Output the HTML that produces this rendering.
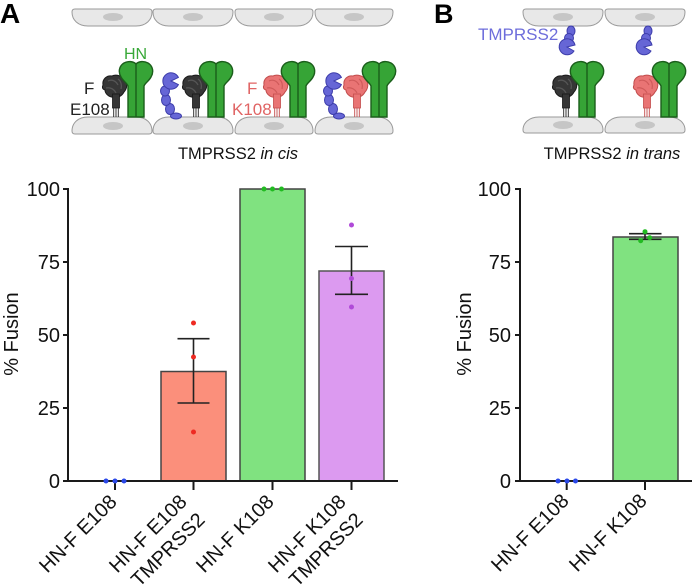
<!DOCTYPE html>
<html>
<head>
<meta charset="utf-8">
<style>
html,body{margin:0;padding:0;background:#fff;}
svg{display:block;}
text{font-family:"Liberation Sans",Arial,sans-serif;}
</style>
</head>
<body>
<svg width="692" height="588" viewBox="0 0 692 588" xmlns="http://www.w3.org/2000/svg">
<defs>
  <g id="hn">
    <path d="M0,2 C-3,-1 -8,-1 -12,1 C-17,4 -18,10 -15,15 C-13,19 -9,21 -8,24 L-8,55 L8,55 L8,24 C9,21 13,19 15,15 C18,10 17,4 12,1 C8,-1 3,-1 0,2 Z" fill="#36a436" stroke="#1b5e1b" stroke-width="1.4"/>
    <path d="M0,2 V55" stroke="#1b5e1b" stroke-width="1.4"/>
  </g>
  <g id="fblack">
    <path d="M-13,10 C-14,4 -9,0 -4,1 C0,-1 7,1 9,5 C12,8 11,14 8,17 C6,21 2,23 -2,22 C-6,23 -11,19 -11,15 C-14,14 -14,12 -13,10 Z" fill="#363636" stroke="#1a1a1a" stroke-width="1"/>
    <path d="M-8,6 C-4,4 0,6 2,10 M-10,13 C-6,12 -2,14 0,18 M2,4 C5,6 6,10 5,14" stroke="#555" stroke-width="1.3" fill="none"/>
    <rect x="-3.5" y="19" width="7" height="14" fill="#363636" stroke="#1a1a1a" stroke-width="0.8"/>
    <path d="M-2.3,33 V42 M0,33 V42 M2.3,33 V42" stroke="#222" stroke-width="0.9"/>
  </g>
  <g id="fred">
    <path d="M-13,10 C-14,4 -9,0 -4,1 C0,-1 7,1 9,5 C12,8 11,14 8,17 C6,21 2,23 -2,22 C-6,23 -11,19 -11,15 C-14,14 -14,12 -13,10 Z" fill="#e97474" stroke="#c24c4c" stroke-width="1"/>
    <path d="M-8,6 C-4,4 0,6 2,10 M-10,13 C-6,12 -2,14 0,18 M2,4 C5,6 6,10 5,14" stroke="#cf5a5a" stroke-width="1.2" fill="none"/>
    <rect x="-3.5" y="19" width="7" height="14" fill="#e97474" stroke="#c24c4c" stroke-width="0.8"/>
    <path d="M-2.3,33 V42 M0,33 V42 M2.3,33 V42" stroke="#c24c4c" stroke-width="0.9"/>
  </g>
  <g id="tmp" fill="#6666d6" stroke="#3d3dab" stroke-width="1">
    <ellipse cx="5" cy="35" rx="5.5" ry="3"/>
    <ellipse cx="-1" cy="28" rx="4.5" ry="5.5"/>
    <ellipse cx="-5" cy="19" rx="4.5" ry="5.5"/>
    <ellipse cx="-6" cy="10" rx="4.5" ry="5"/>
    <path d="M0,0 L7.4,-3.6 A8.2,8.2 0 1,0 7.4,3.6 Z"/>
  </g>
</defs>

<!-- Panel letters -->
<text x="0" y="23" font-size="28" font-weight="bold" fill="#000">A</text>
<text x="434" y="23" font-size="27" font-weight="bold" fill="#000">B</text>

<!-- Panel A cells -->
<g fill="#e8e8e8" stroke="#9a9a9a" stroke-width="1">
  <path d="M75,9 H149 Q152,9 152,12 C152,20 146,26 136,26 H88 C78,26 72,20 72,12 Q72,9 75,9 Z"/>
  <path d="M156,9 H230 Q233,9 233,12 C233,20 227,26 217,26 H169 C159,26 153,20 153,12 Q153,9 156,9 Z"/>
  <path d="M238,9 H310 Q313,9 313,12 C313,20 307,26 297,26 H251 C241,26 235,20 235,12 Q235,9 238,9 Z"/>
  <path d="M318,9 H390 Q393,9 393,12 C393,20 387,26 377,26 H331 C321,26 315,20 315,12 Q315,9 318,9 Z"/>
  <path d="M88,117 H136 C146,117 152,123 152,131 Q152,134 149,134 H75 Q72,134 72,131 C72,123 78,117 88,117 Z"/>
  <path d="M169,117 H217 C227,117 233,123 233,131 Q233,134 230,134 H156 Q153,134 153,131 C153,123 159,117 169,117 Z"/>
  <path d="M251,117 H297 C307,117 313,123 313,131 Q313,134 310,134 H238 Q235,134 235,131 C235,123 241,117 251,117 Z"/>
  <path d="M331,117 H377 C387,117 393,123 393,131 Q393,134 390,134 H318 Q315,134 315,131 C315,123 321,117 331,117 Z"/>
</g>
<g fill="#c6c6c6">
  <ellipse cx="113" cy="17" rx="10" ry="4"/>
  <ellipse cx="193" cy="17" rx="10" ry="4"/>
  <ellipse cx="274" cy="17" rx="10" ry="4"/>
  <ellipse cx="354" cy="17" rx="10" ry="4"/>
  <ellipse cx="113" cy="126" rx="10" ry="4"/>
  <ellipse cx="193" cy="126" rx="10" ry="4"/>
  <ellipse cx="274" cy="126" rx="10" ry="4"/>
  <ellipse cx="354" cy="126" rx="10" ry="4"/>
</g>

<!-- Panel A proteins -->
<use href="#fblack" x="116" y="75"/>
<use href="#hn" x="136" y="62"/>
<use href="#tmp" x="171" y="81"/>
<use href="#fblack" x="196" y="75"/>
<use href="#hn" x="216" y="62"/>
<use href="#fred" x="277" y="75"/>
<use href="#hn" x="298" y="62"/>
<use href="#tmp" x="334" y="81"/>
<use href="#fred" x="357" y="75"/>
<use href="#hn" x="379" y="62"/>

<text x="124" y="59" font-size="16" fill="#38a838">HN</text>
<text x="84" y="94" font-size="17" fill="#222">F</text>
<text x="70" y="115" font-size="17" fill="#222">E108</text>
<text x="247" y="94" font-size="17" fill="#e06464">F</text>
<text x="232" y="115" font-size="17" fill="#e06464">K108</text>

<text x="238" y="159" font-size="16.5" fill="#111" text-anchor="middle">TMPRSS2 <tspan font-style="italic">in cis</tspan></text>

<!-- Panel B cells -->
<g fill="#e8e8e8" stroke="#9a9a9a" stroke-width="1">
  <path d="M526,9 H600 Q603,9 603,12 C603,20 597,26 587,26 H539 C529,26 523,20 523,12 Q523,9 526,9 Z"/>
  <path d="M608,9 H682 Q685,9 685,12 C685,20 679,26 669,26 H621 C611,26 605,20 605,12 Q605,9 608,9 Z"/>
  <path d="M539,117 H587 C597,117 603,123 603,130 Q603,133 600,133 H526 Q523,133 523,130 C523,123 529,117 539,117 Z"/>
  <path d="M621,117 H669 C679,117 685,123 685,130 Q685,133 682,133 H608 Q605,133 605,130 C605,123 611,117 621,117 Z"/>
</g>
<g fill="#c6c6c6">
  <ellipse cx="563" cy="17" rx="10" ry="4"/>
  <ellipse cx="645" cy="17" rx="10" ry="4"/>
  <ellipse cx="563" cy="125" rx="10" ry="4"/>
  <ellipse cx="645" cy="125" rx="10" ry="4"/>
</g>
<g fill="#6666d6" stroke="#3d3dab" stroke-width="1">
  <ellipse cx="571" cy="31" rx="4" ry="5"/>
  <ellipse cx="569" cy="38" rx="4.5" ry="4.5"/>
  <path d="M567,47 L574,51 A8,8 0 1,1 575,45 Z"/>
  <ellipse cx="648" cy="31" rx="4" ry="5"/>
  <ellipse cx="646" cy="38" rx="4.5" ry="4.5"/>
  <path d="M644,47 L651,51 A8,8 0 1,1 652,45 Z"/>
</g>
<use href="#fblack" x="566" y="75"/>
<use href="#hn" x="587" y="62"/>
<use href="#fred" x="647" y="75"/>
<use href="#hn" x="669" y="62"/>

<text x="478" y="40" font-size="17" fill="#6d6ddb">TMPRSS2</text>
<text x="612" y="159" font-size="16.5" fill="#111" text-anchor="middle">TMPRSS2 <tspan font-style="italic">in trans</tspan></text>

<!-- ============ Chart A ============ -->
<!-- bars -->
<rect x="161" y="371.5" width="65" height="109.5" fill="#fb8f7b" stroke="#444" stroke-width="1.5"/>
<rect x="240" y="189" width="65" height="292" fill="#80e280" stroke="#444" stroke-width="1.5"/>
<rect x="319" y="271" width="65" height="210" fill="#dc9af0" stroke="#555" stroke-width="1.5"/>

<!-- error bars -->
<g stroke="#222" stroke-width="1.6" fill="none">
  <path d="M193.5,338.7 V403 M177.5,338.7 H209.5 M177.5,403 H209.5"/>
  <path d="M351.5,246.5 V294.3 M335,246.5 H368 M335,294.3 H368"/>
</g>

<!-- axes -->
<g stroke="#1a1a1a" stroke-width="2" fill="none">
  <path d="M68,188 V481 H398"/>
  <path d="M63,189 H68 M63,262 H68 M63,335 H68 M63,408 H68 M63,481 H68"/>
  <path d="M115,481 V490 M193.5,481 V490 M272.5,481 V490 M351.5,481 V490"/>
</g>

<!-- dots -->
<g fill="#2a48e8">
  <circle cx="106" cy="481" r="2.5"/><circle cx="115" cy="481" r="2.5"/><circle cx="124" cy="481" r="2.5"/>
</g>
<g fill="#ee2a22">
  <circle cx="193.5" cy="323" r="2.5"/><circle cx="193.5" cy="357" r="2.5"/><circle cx="193.5" cy="432" r="2.5"/>
</g>
<g fill="#22bb22">
  <circle cx="264" cy="189" r="2.5"/><circle cx="272.5" cy="189" r="2.5"/><circle cx="281.5" cy="189" r="2.5"/>
</g>
<g fill="#b04ad8">
  <circle cx="351.5" cy="225" r="2.5"/><circle cx="351.5" cy="278.5" r="2.5"/><circle cx="351.5" cy="307" r="2.5"/>
</g>

<!-- tick labels -->
<g font-size="20" fill="#111" text-anchor="end">
  <text x="60" y="196">100</text>
  <text x="60" y="269">75</text>
  <text x="60" y="342">50</text>
  <text x="60" y="415">25</text>
  <text x="60" y="488">0</text>
</g>
<text transform="translate(18,334) rotate(-90)" font-size="20" fill="#111" text-anchor="middle">% Fusion</text>

<g font-size="20" fill="#111" text-anchor="end">
  <text transform="translate(118,503) rotate(-45)">HN-F E108</text>
  <text transform="translate(188,503) rotate(-45)">HN-F E108</text>
  <text transform="translate(206,521) rotate(-45)">TMPRSS2</text>
  <text transform="translate(275,503) rotate(-45)">HN-F K108</text>
  <text transform="translate(347,503) rotate(-45)">HN-F K108</text>
  <text transform="translate(364,521) rotate(-45)">TMPRSS2</text>
</g>

<!-- ============ Chart B ============ -->
<rect x="613" y="237" width="65" height="244" fill="#80e280" stroke="#444" stroke-width="1.5"/>
<g stroke="#222" stroke-width="1.6" fill="none">
  <path d="M645,233.7 V239.3 M629,233.7 H661.5 M629,239.3 H661.5"/>
</g>
<g stroke="#1a1a1a" stroke-width="2" fill="none">
  <path d="M520,188 V481 H692"/>
  <path d="M515,189 H520 M515,262 H520 M515,335 H520 M515,408 H520 M515,481 H520"/>
  <path d="M566.7,481 V490 M645,481 V490"/>
</g>
<g fill="#2a48e8">
  <circle cx="558" cy="481" r="2.5"/><circle cx="567" cy="481" r="2.5"/><circle cx="575.5" cy="481" r="2.5"/>
</g>
<g fill="#22bb22">
  <circle cx="645" cy="231.7" r="2.5"/><circle cx="640.7" cy="240.7" r="2.5"/><circle cx="649.7" cy="237.7" r="2.5"/>
</g>
<g font-size="20" fill="#111" text-anchor="end">
  <text x="511" y="196">100</text>
  <text x="511" y="269">75</text>
  <text x="511" y="342">50</text>
  <text x="511" y="415">25</text>
  <text x="511" y="488">0</text>
</g>
<text transform="translate(471,334) rotate(-90)" font-size="20" fill="#111" text-anchor="middle">% Fusion</text>
<g font-size="20" fill="#111" text-anchor="end">
  <text transform="translate(570,502) rotate(-45)">HN-F E108</text>
  <text transform="translate(648,502) rotate(-45)">HN-F K108</text>
</g>
</svg>
</body>
</html>
